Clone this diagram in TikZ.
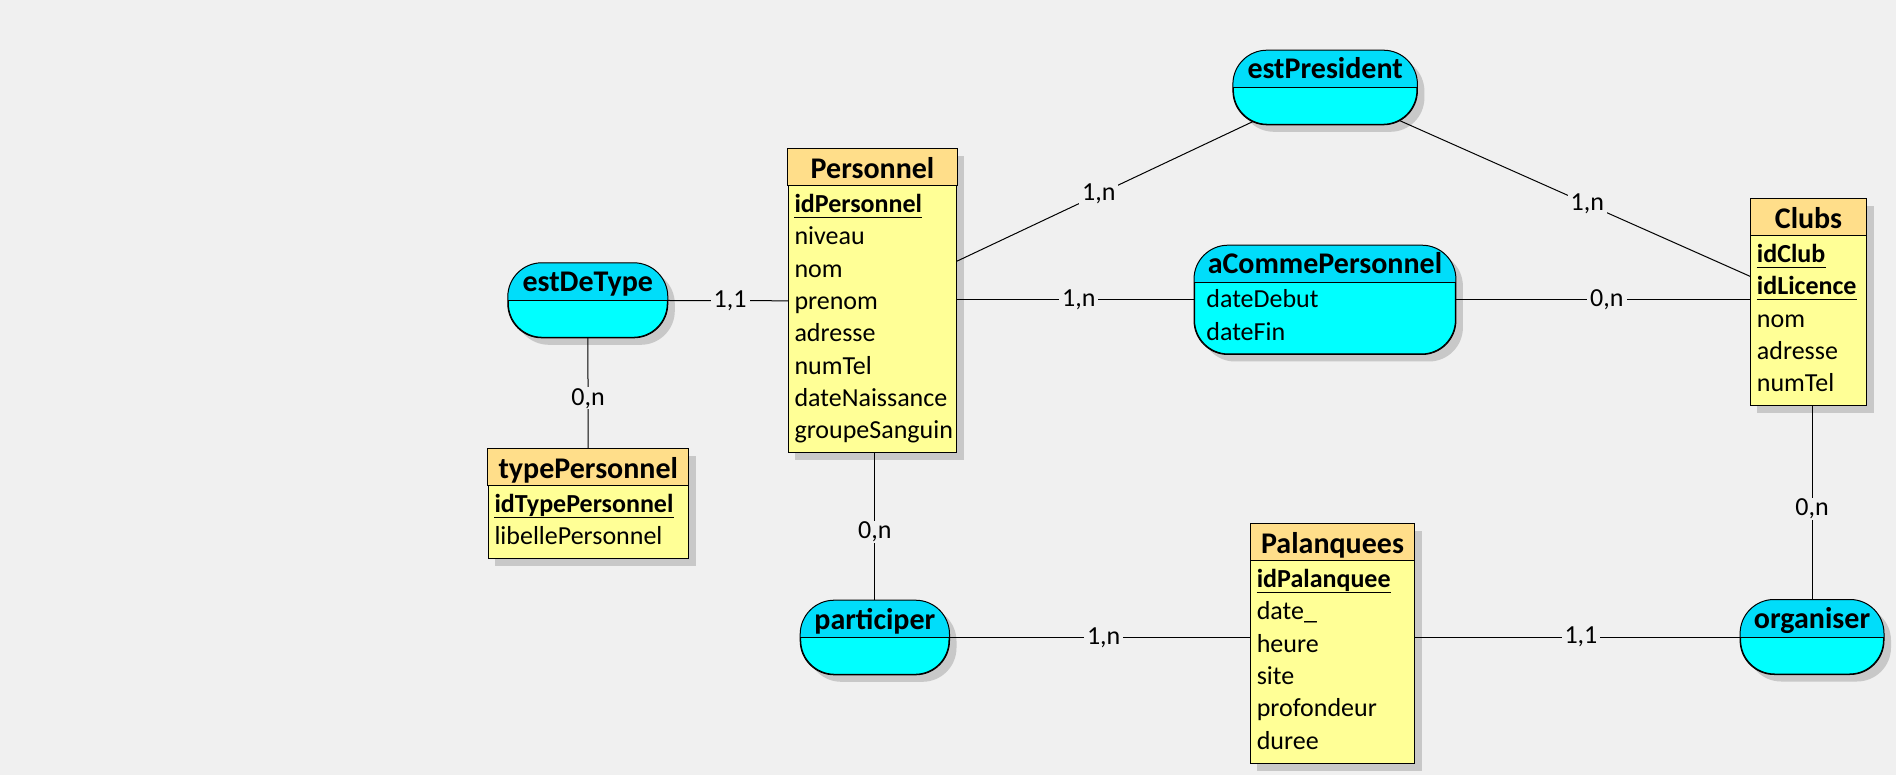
\documentclass[tikz,border=0pt]{standalone}
\usepackage{fontspec}
\setmainfont{Carlito}
\usetikzlibrary{calc}
\definecolor{bgc}{RGB}{240,240,240}
\definecolor{enthead}{RGB}{255,222,138}
\definecolor{entbody}{RGB}{255,255,150}
\definecolor{ashead}{RGB}{0,221,250}
\definecolor{asbody}{RGB}{0,255,255}
\definecolor{shadowgray}{RGB}{200,200,200}
\pgfdeclarelayer{bgfill}
\pgfdeclarelayer{shadow}
\pgfdeclarelayer{lines}
\pgfsetlayers{bgfill,shadow,lines,main}
\newcommand\attrfont{\fontsize{26}{30}\selectfont}
\newcommand\headfont{\fontsize{30}{34}\selectfont\bfseries}
\tikzset{
  entbox/.style={rectangle, draw=black, fill=entbody, line width=1pt, inner sep=0pt},
  asbox/.style={rectangle, draw=black, fill=asbody, line width=1pt, rounded corners=34pt, inner sep=0pt},
  titletext/.style={anchor=base, inner sep=0pt, font=\headfont},
  attrtext/.style={anchor=base west, inner sep=0pt, font=\attrfont},
  keytext/.style={anchor=base west, inner sep=0pt, font=\attrfont\bfseries},
  conn/.style={draw=black, line width=1pt},
  card/.style={fill=bgc, inner xsep=3pt, inner ysep=1pt, font=\attrfont},
}
% entity: name, cx, cy, w, h, title
\newcommand\mkentity[6]{%
  \node[entbox, minimum width=#4pt, minimum height=#5pt] (#1) at (#2,#3) {};
  \begin{pgfonlayer}{shadow}
    \fill[shadowgray] ([shift={(7,7)}]#1.north west) rectangle ([shift={(7,7)}]#1.south east);
  \end{pgfonlayer}
  \draw[line width=1pt, fill=enthead] (#1.north west) rectangle ([yshift=-36.7pt]#1.north east);
  \node[titletext] (#1-t) at ([yshift=-29.3pt]#1.north) {#6};
}
% association: name, cx, cy, w, h, title
\newcommand\mkassoc[6]{%
  \node[asbox, minimum width=#4pt, minimum height=#5pt] (#1) at (#2,#3) {};
  \begin{pgfonlayer}{shadow}
    \fill[shadowgray, rounded corners=34pt] ([shift={(7,7)}]#1.north west) rectangle ([shift={(7,7)}]#1.south east);
  \end{pgfonlayer}
  \begin{scope}
    \clip[rounded corners=34pt] (#1.north west) rectangle (#1.south east);
    \fill[ashead] (#1.north west) rectangle ([yshift=-37.6pt]#1.north east);
  \end{scope}
  \draw[line width=1pt, rounded corners=34pt] (#1.north west) rectangle (#1.south east);
  \draw[line width=1pt] ([yshift=-37.6pt]#1.north west) -- ([yshift=-37.6pt]#1.north east);
  \node[titletext] (#1-t) at ([yshift=-28.8pt]#1.north) {#6};
}
% entity attribute rows: parent, name, row, text
\newcommand\attrrow[4]{%
  \node[attrtext] (#2) at ([shift={(6.5,{63.8+32.3*#3})}]#1.north west) {#4};
}
\newcommand\keyrow[4]{%
  \node[keytext] (#2) at ([shift={(6.5,{63.8+32.3*#3})}]#1.north west) {#4};
  \draw[line width=1pt] ([yshift=-4.6pt]#2.base west) -- ([yshift=-4.6pt]#2.base east);
}
% association attribute rows
\newcommand\asattrrow[4]{%
  \node[attrtext] (#2) at ([shift={(12.2,{62.6+32.5*#3})}]#1.north west) {#4};
}
\begin{document}
\begin{tikzpicture}[x=1pt,y=-1pt]
\useasboundingbox (0,0) rectangle (1896,775);
\begin{pgfonlayer}{bgfill}
  \fill[bgc] (0,0) rectangle (1896,775);
\end{pgfonlayer}

% ---- entities
\mkentity{pers}{872.5}{301}{168.4}{303.4}{Personnel}
\keyrow{pers}{pers-a0}{0}{idPersonnel}
\attrrow{pers}{pers-a1}{1}{niveau}
\attrrow{pers}{pers-a2}{2}{nom}
\attrrow{pers}{pers-a3}{3}{prenom}
\attrrow{pers}{pers-a4}{4}{adresse}
\attrrow{pers}{pers-a5}{5}{numTel}
\attrrow{pers}{pers-a6}{6}{dateNaissance}
\attrrow{pers}{pers-a7}{7}{groupeSanguin}

\mkentity{tp}{588.3}{503.65}{200}{108.7}{typePersonnel}
\keyrow{tp}{tp-a0}{0}{idTypePersonnel}
\attrrow{tp}{tp-a1}{1}{libellePersonnel}

\mkentity{clubs}{1808.5}{302.3}{115.6}{206}{Clubs}
\keyrow{clubs}{clubs-a0}{0}{idClub}
\keyrow{clubs}{clubs-a1}{1}{idLicence}
\attrrow{clubs}{clubs-a2}{2}{nom}
\attrrow{clubs}{clubs-a3}{3}{adresse}
\attrrow{clubs}{clubs-a4}{4}{numTel}

\mkentity{pal}{1332.5}{643.8}{163.8}{239}{Palanquees}
\keyrow{pal}{pal-a0}{0}{idPalanquee}
\attrrow{pal}{pal-a1}{1}{date\_}
\attrrow{pal}{pal-a2}{2}{heure}
\attrrow{pal}{pal-a3}{3}{site}
\attrrow{pal}{pal-a4}{4}{profondeur}
\attrrow{pal}{pal-a5}{5}{duree}

% ---- associations
\mkassoc{edt}{587.8}{300.3}{159}{74}{estDeType}
\mkassoc{estp}{1325.15}{87.5}{183.5}{73.6}{estPresident}
\mkassoc{acp}{1324.95}{299.85}{260.9}{108.3}{aCommePersonnel}
\asattrrow{acp}{acp-a0}{0}{dateDebut}
\asattrrow{acp}{acp-a1}{1}{dateFin}
\mkassoc{part}{874.85}{637.5}{148.3}{73.6}{participer}
\mkassoc{org}{1812.05}{637}{142.9}{74}{organiser}

% ---- connectors
\begin{pgfonlayer}{lines}
  \draw[conn] (edt.center) -- node[card, pos=.5] (l1) {1,1} (pers.center);
  \draw[conn] (edt.center) -- node[card, pos=.482] (l2) {0,n} (tp.center);
  \draw[conn] (pers.center) -- node[card, pos=.5] (l3) {1,n} (estp.center);
  \draw[conn] (acp.center -| pers.center) -- node[card, pos=.456] (l4) {1,n} (acp.center);
  \draw[conn] (acp.center) -- node[card, pos=.583] (l5) {0,n} (acp.center -| clubs.center);
  \draw[conn] (estp.center) -- node[card, pos=.5425] (l6) {1,n} (clubs.center);
  \draw[conn] (part.center |- pers.center) -- node[card, pos=.686] (l7) {0,n} (part.center);
  \draw[conn] (part.center) -- node[card, pos=.5] (l8) {1,n} (part.center -| pal.center);
  \draw[conn] (org.center -| pal.center) -- node[card, pos=.518] (l9) {1,1} (org.center);
  \draw[conn] (org.center |- clubs.center) -- node[card, pos=.618] (l10) {0,n} (org.center);
\end{pgfonlayer}
\end{tikzpicture}
\end{document}
